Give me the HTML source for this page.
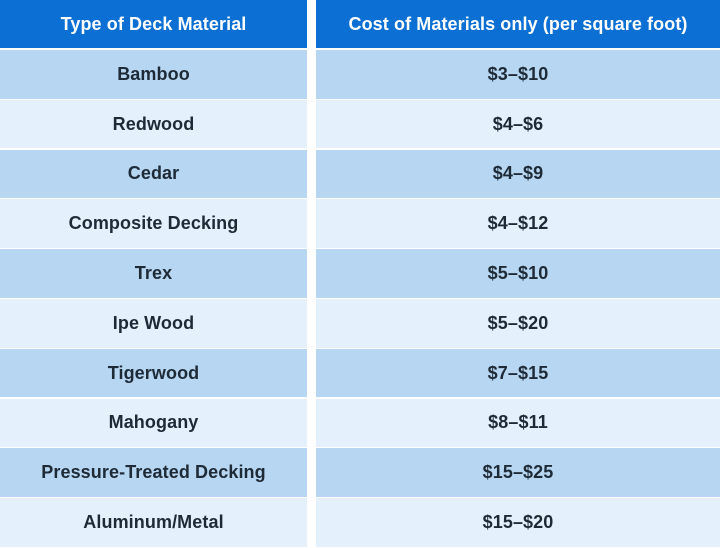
<!DOCTYPE html>
<html><head><style>
body{margin:0;width:720px;height:548px;background:#fff;font-family:"Liberation Sans",sans-serif;overflow:hidden;position:relative}
.c{position:absolute;display:flex;align-items:center;justify-content:center;font-size:18px;font-weight:bold;color:#1e2a36;letter-spacing:0.1px}
.h{background:#0b6fd3;color:#fff}
.d{background:#b6d6f2}
.l{background:#e4f0fb}
</style></head><body>
<div class="c h" style="left:0;top:0;width:307px;height:48px">Type of Deck Material</div>
<div class="c h" style="left:316px;top:0;width:404px;height:48px">Cost of Materials only (per square foot)</div>
<div id="rows"></div>
<script>
var d=[["Bamboo","$3–$10"],["Redwood","$4–$6"],["Cedar","$4–$9"],["Composite Decking","$4–$12"],["Trex","$5–$10"],["Ipe Wood","$5–$20"],["Tigerwood","$7–$15"],["Mahogany","$8–$11"],["Pressure-Treated Decking","$15–$25"],["Aluminum/Metal","$15–$20"]];
var h="";
for(var i=0;i<10;i++){var t=50+i*49.8,cl=i%2?"l":"d";
h+='<div class="c '+cl+'" style="left:0;top:'+t+'px;width:307px;height:48.5px">'+d[i][0]+'</div>';
h+='<div class="c '+cl+'" style="left:316px;top:'+t+'px;width:404px;height:48.5px">'+d[i][1]+'</div>';}
document.getElementById("rows").innerHTML=h;
</script>
</body></html>
